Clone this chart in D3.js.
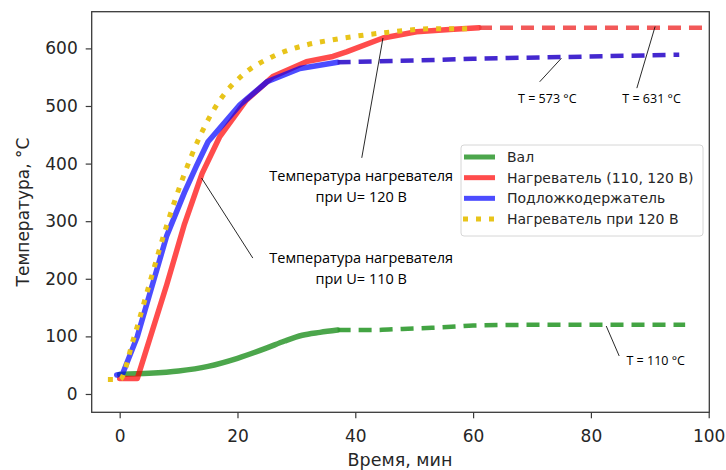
<!DOCTYPE html>
<html>
<head>
<meta charset="utf-8">
<script src="https://cdn.jsdelivr.net/npm/d3@7"></script>
<style>
  body { margin: 0; background: white; }
</style>
</head>
<body>
<div id="chart"></div>
<script>
// data (time in min, temperature in °C)
const xTicks = [0, 20, 40, 60, 80, 100]
const yTicks = [0, 100, 200, 300, 400, 500, 600]

const valTime = [0, 5, 10, 15, 20, 25, 28, 31, 34, 37]
const valTemp = [34, 36, 40, 48, 62, 80, 92, 102, 107, 111]
const valTimeDash = [37, 43, 48, 53, 57, 60, 70, 80, 96]
const valTempDash = [111, 111, 113, 115, 117, 119, 120, 120, 120]

const heaterTime = [0, 3, 8, 11, 14, 17, 21.5, 26, 31.7, 36.2, 38.5, 44.7, 50.4, 56, 61]
const heaterTemp = [27, 27, 190, 295, 383, 447, 510, 551, 577, 586, 594, 618, 629, 633, 636]
const heaterTimeDash = [61, 99]
const heaterTempDash = [636, 636]

const holderTime = [-0.5, 0.5, 3, 5, 8, 11, 13, 15, 20.4, 25, 30.6, 37]
const holderTemp = [33, 35, 100, 170, 275, 350, 395, 438, 502, 542, 565, 576]
const holderTimeDash = [37, 50, 60, 75, 95]
const holderTempDash = [576, 579, 582, 585, 589]

const heater120Time = [-2, 0, 2.3, 5.1, 7.9, 10.8, 13.6, 17, 20.9, 26, 31.7, 36.2, 44.7, 53.2, 60]
const heater120Temp = [25, 25, 94, 193, 290, 377, 447, 510, 554, 586, 606, 615, 627, 634, 634]

const legendNames = ["Вал", "Нагреватель (110, 120 В)", "Подложкодержатель", "Нагреватель при 120 В"]
const legendColors = ["#008000", "#ff0000", "#0000ff", "#e8c41a"]

// annotations: text lines, text anchor point, line tail and tip (data units)
const annotLines = [
  ["Температура нагревателя", "при U= 120 В"],
  ["Температура нагревателя", "при U= 110 В"],
  ["T = 573 °C"],
  ["T = 631 °C"],
  ["T = 110 °C"]
]
const annotTextPos = [[41, 380], [41, 238], [72.6, 514], [90.3, 514], [91, 59]]
const annotTail = [[41.1, 410], [22.6, 236], [71.3, 542], [87.8, 531], [84.8, 66]]
const annotTip = [[44.7, 618], [13.9, 375], [75.0, 583], [90.9, 638], [82.6, 118]]

const W = 726, H = 470
const mLeft = 91.7, mRight = 709.3, mTop = 11.7, mBottom = 412.3

const svg = d3.select("#chart").append("svg")
    .attr("width", W)
    .attr("height", H)

const x = d3.scaleLinear().domain([-4.75, 100.1]).range([mLeft, mRight])
const y = d3.scaleLinear().domain([-31.8, 663.7]).range([mBottom, mTop])

const zip = (a, b) => a.map((v, i) => [v, b[i]])
const line = d3.line().x(d => x(d[0])).y(d => y(d[1]))
const smooth = d3.line().x(d => x(d[0])).y(d => y(d[1])).curve(d3.curveMonotoneX)

const plot = svg.append("g")

function drawSeries(pts, color, opts) {
    plot.append("path")
        .datum(pts)
        .attr("d", opts.smooth ? smooth : line)
        .attr("fill", "none")
        .attr("stroke", color)
        .attr("stroke-width", opts.w || 5)
        .attr("stroke-opacity", opts.op || 0.7)
        .attr("stroke-linejoin", "round")
        .attr("stroke-linecap", opts.cap || "butt")
        .attr("stroke-dasharray", opts.dash || null)
}

// order as plotted: shaft, heater, holder, heater 120 V
drawSeries(zip(valTime, valTemp), legendColors[0], {w: 5.5, cap: "round", smooth: true})
drawSeries(zip(valTimeDash, valTempDash), "#2f9a2f", {w: 4.5, op: 0.9, dash: "13,8", smooth: true})
drawSeries(zip(heaterTime, heaterTemp), legendColors[1], {w: 5.5, cap: "round"})
drawSeries(zip(heaterTimeDash, heaterTempDash), "#f03c3c", {w: 4.5, op: 0.85, dash: "13,8"})
drawSeries(zip(holderTime, holderTemp), legendColors[2], {w: 5.5, cap: "round"})
drawSeries(zip(holderTimeDash, holderTempDash), "#3a1ccc", {w: 4.5, op: 0.95, dash: "13,8"})
drawSeries(zip(heater120Time, heater120Temp), legendColors[3], {w: 5, op: 1, dash: "5,8", smooth: true})

// frame
svg.append("rect")
    .attr("x", mLeft)
    .attr("y", mTop)
    .attr("width", mRight - mLeft)
    .attr("height", mBottom - mTop)
    .attr("fill", "none")
    .attr("stroke", "#3a3a3a")
    .attr("stroke-width", 1.3)

// axes
const xAxis = svg.append("g")
    .attr("transform", `translate(0,${mBottom})`)
    .call(d3.axisBottom(x).tickValues(xTicks).tickSize(6).tickPadding(12).tickFormat(d3.format("d")))
const yAxis = svg.append("g")
    .attr("transform", `translate(${mLeft},0)`)
    .call(d3.axisLeft(y).tickValues(yTicks).tickSize(6).tickPadding(8).tickFormat(d3.format("d")))

svg.selectAll(".domain").remove()
svg.selectAll(".tick line").attr("stroke", "#3a3a3a").attr("stroke-width", 1.2)
svg.selectAll(".tick text")
    .attr("font-family", "DejaVu Sans")
    .attr("font-size", 17)
    .attr("fill", "#262626")

svg.append("text")
    .attr("x", 400)
    .attr("y", 460)
    .attr("text-anchor", "middle")
    .attr("dominant-baseline", "central")
    .attr("font-family", "DejaVu Sans")
    .attr("font-size", 17.5)
    .attr("fill", "#262626")
    .text("Время, мин")

svg.append("text")
    .attr("transform", "translate(23,212) rotate(-90)")
    .attr("text-anchor", "middle")
    .attr("dominant-baseline", "central")
    .attr("font-family", "DejaVu Sans")
    .attr("font-size", 17)
    .attr("fill", "#262626")
    .text("Температура, °C")

// annotations
for (let i = 0; i < annotLines.length; i++) {
    svg.append("line")
        .attr("x1", x(annotTail[i][0]))
        .attr("y1", y(annotTail[i][1]))
        .attr("x2", x(annotTip[i][0]))
        .attr("y2", y(annotTip[i][1]))
        .attr("stroke", "#111")
        .attr("stroke-width", 0.9)

    const big = annotLines[i].length > 1
    const t = svg.append("text")
        .attr("x", x(annotTextPos[i][0]))
        .attr("y", y(annotTextPos[i][1]))
        .attr("text-anchor", "middle")
        .attr("dominant-baseline", "central")
        .attr("font-family", "Open Sans")
        .attr("font-size", big ? 14.5 : 12.5)
        .attr("font-weight", big ? 500 : 400)
        .attr("fill", "#000")

    annotLines[i].forEach((s, k) => {
        t.append("tspan")
            .attr("x", x(annotTextPos[i][0]))
            .attr("dy", k == 0 ? 0 : 21)
            .text(s)
    })
}

// legend
const legend = svg.append("g")
legend.append("rect")
    .attr("x", 461)
    .attr("y", 145)
    .attr("width", 242)
    .attr("height", 91)
    .attr("rx", 3)
    .attr("fill", "white")
    .attr("fill-opacity", 0.85)
    .attr("stroke", "#d6d6d6")
    .attr("stroke-width", 1)

const legendY = d3.scalePoint().domain(legendNames).range([157, 219])

legendNames.forEach((name, i) => {
    const ly = legendY(name)
    legend.append("line")
        .attr("x1", i == 3 ? 463 : 464)
        .attr("x2", 495)
        .attr("y1", ly)
        .attr("y2", ly)
        .attr("stroke", legendColors[i])
        .attr("stroke-opacity", i == 3 ? 1 : 0.7)
        .attr("stroke-width", 5)
        .attr("stroke-dasharray", i == 3 ? "5,8" : null)

    legend.append("text")
        .attr("x", 507)
        .attr("y", ly)
        .attr("dominant-baseline", "central")
        .attr("font-family", "DejaVu Sans")
        .attr("font-size", 14)
        .attr("fill", "#262626")
        .text(name)
})
</script>
</body>
</html>
